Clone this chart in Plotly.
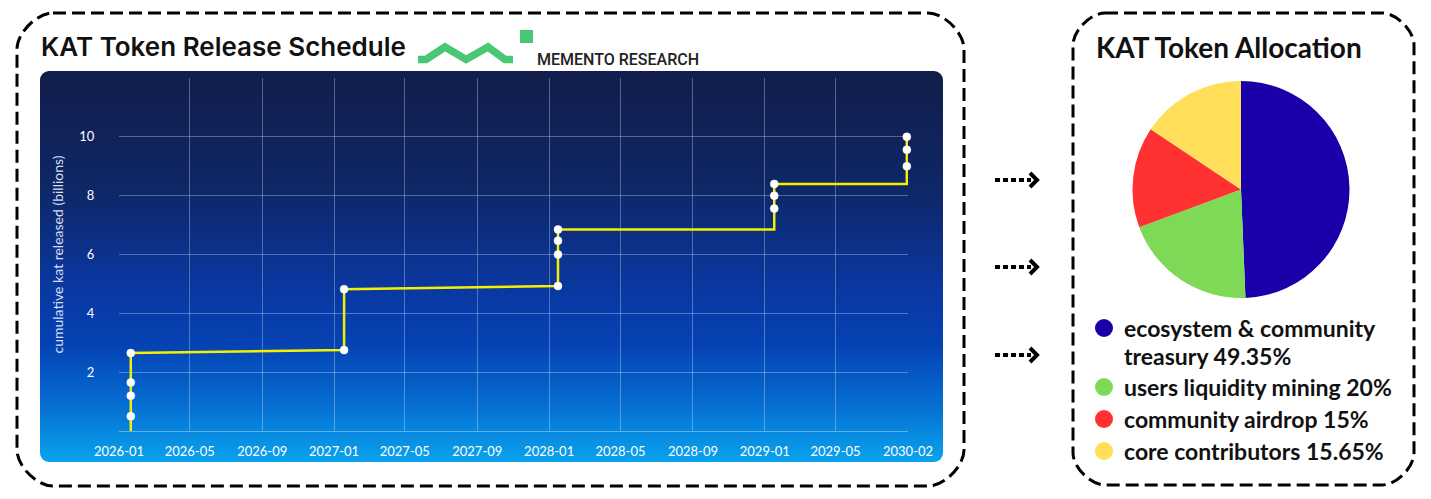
import base64
import plotly.graph_objects as go

# release schedule (billions of KAT)
release_dates = [
    "2026-01-21", "2026-01-21", "2026-01-21", "2026-01-21", "2026-01-21",
    "2027-01-18", "2027-01-18",
    "2028-01-16", "2028-01-16", "2028-01-16", "2028-01-16",
    "2029-01-17", "2029-01-17", "2029-01-17", "2029-01-17",
    "2029-08-30", "2029-08-30", "2029-08-30", "2029-08-30",
]
cumulative_kat = [
    0, 0.5, 1.2, 1.65, 2.65,
    2.75, 4.82,
    4.93, 6.0, 6.47, 6.85,
    6.85, 7.56, 8.0, 8.4,
    8.4, 9.0, 9.56, 10.0,
]
has_marker = [
    False, True, True, True, True,
    True, True,
    True, True, True, True,
    False, True, True, True,
    False, True, True, True,
]
tick_dates = [
    "2026-01-01", "2026-05-01", "2026-09-01", "2027-01-01", "2027-05-01", "2027-09-01",
    "2028-01-01", "2028-05-01", "2028-09-01", "2029-01-01", "2029-05-01", "2029-09-01",
]
tick_labels = [
    "2026-01", "2026-05", "2026-09", "2027-01", "2027-05", "2027-09",
    "2028-01", "2028-05", "2028-09", "2029-01", "2029-05", "2030-02",
]
y_ticks = [2, 4, 6, 8, 10]

# token allocation
alloc_labels = ["ecosystem & community treasury", "users liquidity mining",
                "community airdrop", "core contributors"]
alloc_pct = [49.35, 20, 15, 15.65]
alloc_colors = ["#1a00a8", "#7ed957", "#ff3131", "#ffde59"]

W, H = 1431, 499


def px(x):
    return x / W


def py(y):
    return 1 - y / H


def rounded_rect(x0, y0, x1, y1, r):
    # svg path in paper coords, corners approximated with cubic curves
    k = 0.45 * r
    pts = [
        ("M", [(x0 + r, y0)]),
        ("L", [(x1 - r, y0)]),
        ("C", [(x1 - r + k, y0), (x1, y0 + r - k), (x1, y0 + r)]),
        ("L", [(x1, y1 - r)]),
        ("C", [(x1, y1 - r + k), (x1 - r + k, y1), (x1 - r, y1)]),
        ("L", [(x0 + r, y1)]),
        ("C", [(x0 + r - k, y1), (x0, y1 - r + k), (x0, y1 - r)]),
        ("L", [(x0, y0 + r)]),
        ("C", [(x0, y0 + r - k), (x0 + r - k, y0), (x0 + r, y0)]),
    ]
    out = ""
    for cmd, coords in pts:
        out += cmd + " ".join(f"{px(a):.5f},{py(b):.5f}" for a, b in coords) + " "
    return out + "Z"


fig = go.Figure()

# step line
fig.add_trace(go.Scatter(
    x=release_dates, y=cumulative_kat,
    mode="lines+markers",
    line=dict(color="#f4f000", width=2.5),
    marker=dict(color="white", opacity=1, size=[8 if m else 0 for m in has_marker],
                line=dict(width=0.5, color="white")),
    cliponaxis=False,
    showlegend=False,
))

fig.add_trace(go.Pie(
    labels=alloc_labels, values=alloc_pct,
    marker=dict(colors=alloc_colors, line=dict(width=0)),
    sort=False, direction="clockwise", rotation=0,
    textinfo="none", showlegend=False,
    domain=dict(x=[px(1132), px(1350)], y=[py(298), py(81)]),
))

# gradient panel behind the line chart
pw, ph = 903, 391
svg = (
    f'<svg xmlns="http://www.w3.org/2000/svg" width="{pw}" height="{ph}" viewBox="0 0 {pw} {ph}">'
    '<defs><linearGradient id="g" x1="0" y1="0" x2="0" y2="1">'
    '<stop offset="0" stop-color="#121d4a"/>'
    '<stop offset="0.3" stop-color="#0e2766"/>'
    '<stop offset="0.55" stop-color="#0a37a0"/>'
    '<stop offset="0.7" stop-color="#0542b3"/>'
    '<stop offset="0.86" stop-color="#0670d2"/>'
    '<stop offset="1" stop-color="#0aa3ed"/>'
    '</linearGradient></defs>'
    f'<rect width="{pw}" height="{ph}" rx="9" ry="9" fill="url(#g)"/></svg>'
)
fig.add_layout_image(
    source="data:image/svg+xml;base64," + base64.b64encode(svg.encode()).decode(),
    xref="paper", yref="paper", x=px(40), y=py(71), sizex=px(pw), sizey=ph / H,
    xanchor="left", yanchor="top", sizing="stretch", layer="below",
)

shapes = []
# dashed frames
for box in [(17, 13, 964, 486, 36), (1073, 13, 1414, 485, 32)]:
    shapes.append(dict(type="path", xref="paper", yref="paper", path=rounded_rect(*box),
                       line=dict(color="black", width=3, dash="13px,6px")))

# arrows between the panels
for ay in [180, 267, 355]:
    shapes.append(dict(type="line", xref="paper", yref="paper",
                       x0=px(995), x1=px(1031), y0=py(ay), y1=py(ay),
                       line=dict(color="black", width=4, dash="5px,3px")))
    shapes.append(dict(type="path", xref="paper", yref="paper",
                       path=f"M{px(1030)},{py(ay - 7)} L{px(1037)},{py(ay)} L{px(1030)},{py(ay + 7)}",
                       line=dict(color="black", width=4)))

# logo
wave = [(418, 59.5), (426, 59.5), (445, 47), (466, 59.5), (488, 47), (505, 59.5), (513, 59.5)]
shapes.append(dict(type="path", xref="paper", yref="paper",
                   path="M" + " L".join(f"{px(a)},{py(b)}" for a, b in wave),
                   line=dict(color="#48c774", width=7.5)))
shapes.append(dict(type="rect", xref="paper", yref="paper",
                   x0=px(520), x1=px(533), y0=py(43), y1=py(30),
                   fillcolor="#48c774", line=dict(width=0)))

# legend dots
row_y = [328, 387, 419, 451]
for c, ry in zip(alloc_colors, row_y):
    shapes.append(dict(type="circle", xref="paper", yref="paper",
                       x0=px(1095), x1=px(1113), y0=py(ry + 9), y1=py(ry - 9),
                       fillcolor=c, line=dict(width=0)))

annotations = [
    dict(text="KAT Token Release Schedule", x=px(39), y=py(47), xanchor="left", yanchor="middle",
         font=dict(family="Inter", size=26, color="#111", weight=600)),
    dict(text="MEMENTO RESEARCH", x=px(535), y=py(59), xanchor="left", yanchor="middle",
         font=dict(family="Roboto", size=16, color="#222", weight=500)),
    dict(text="KAT Token Allocation", x=px(1094), y=py(47), xanchor="left", yanchor="middle",
         font=dict(family="Lato", size=28, color="#111", weight=700)),
]
legend_font = dict(family="Lato", size=23, color="#111", weight=700)
legend_lines = [
    ("ecosystem & community", 328),
    (f"treasury {alloc_pct[0]:g}%", 356),
]
for lab, p, ry in zip(alloc_labels[1:], alloc_pct[1:], row_y[1:]):
    legend_lines.append((f"{lab} {p:g}%", ry))
for t, ty in legend_lines:
    annotations.append(dict(text=t, x=px(1122), y=py(ty), xanchor="left", yanchor="middle",
                            font=legend_font))
for a in annotations:
    a.update(xref="paper", yref="paper", showarrow=False)

tick_font = dict(family="Lato", size=13, color="white")
fig.update_layout(
    width=W, height=H,
    margin=dict(l=0, r=0, t=0, b=0),
    paper_bgcolor="white",
    plot_bgcolor="rgba(0,0,0,0)",
    shapes=shapes,
    annotations=annotations,
    xaxis=dict(
        type="date", domain=[px(119), px(908)], range=[tick_dates[0], tick_dates[-1]],
        tickvals=tick_dates, ticktext=tick_labels,
        showgrid=True, gridcolor="rgba(255,255,255,0.3)", gridwidth=1,
        showline=True, linecolor="rgba(255,255,255,0.35)", zeroline=False,
        tickfont=tick_font,
        ticks="outside", ticklen=8, tickcolor="rgba(0,0,0,0)",
        automargin=False, fixedrange=True,
    ),
    yaxis=dict(
        domain=[py(431), py(78)], range=[0, 12],
        tickvals=y_ticks,
        showgrid=True, gridcolor="rgba(255,255,255,0.3)", gridwidth=1,
        zeroline=False, showline=False,
        tickfont=tick_font,
        ticks="outside", ticklen=21, tickcolor="rgba(0,0,0,0)",
        automargin=False, fixedrange=True,
        title=dict(text="cumulative kat released (billions)", standoff=12,
                   font=dict(family="Lato", size=14, color="rgba(235,240,255,0.9)")),
    ),
)

fig.write_html("out.html", config={"displayModeBar": False},
               post_script="document.body.style.margin='0';")
